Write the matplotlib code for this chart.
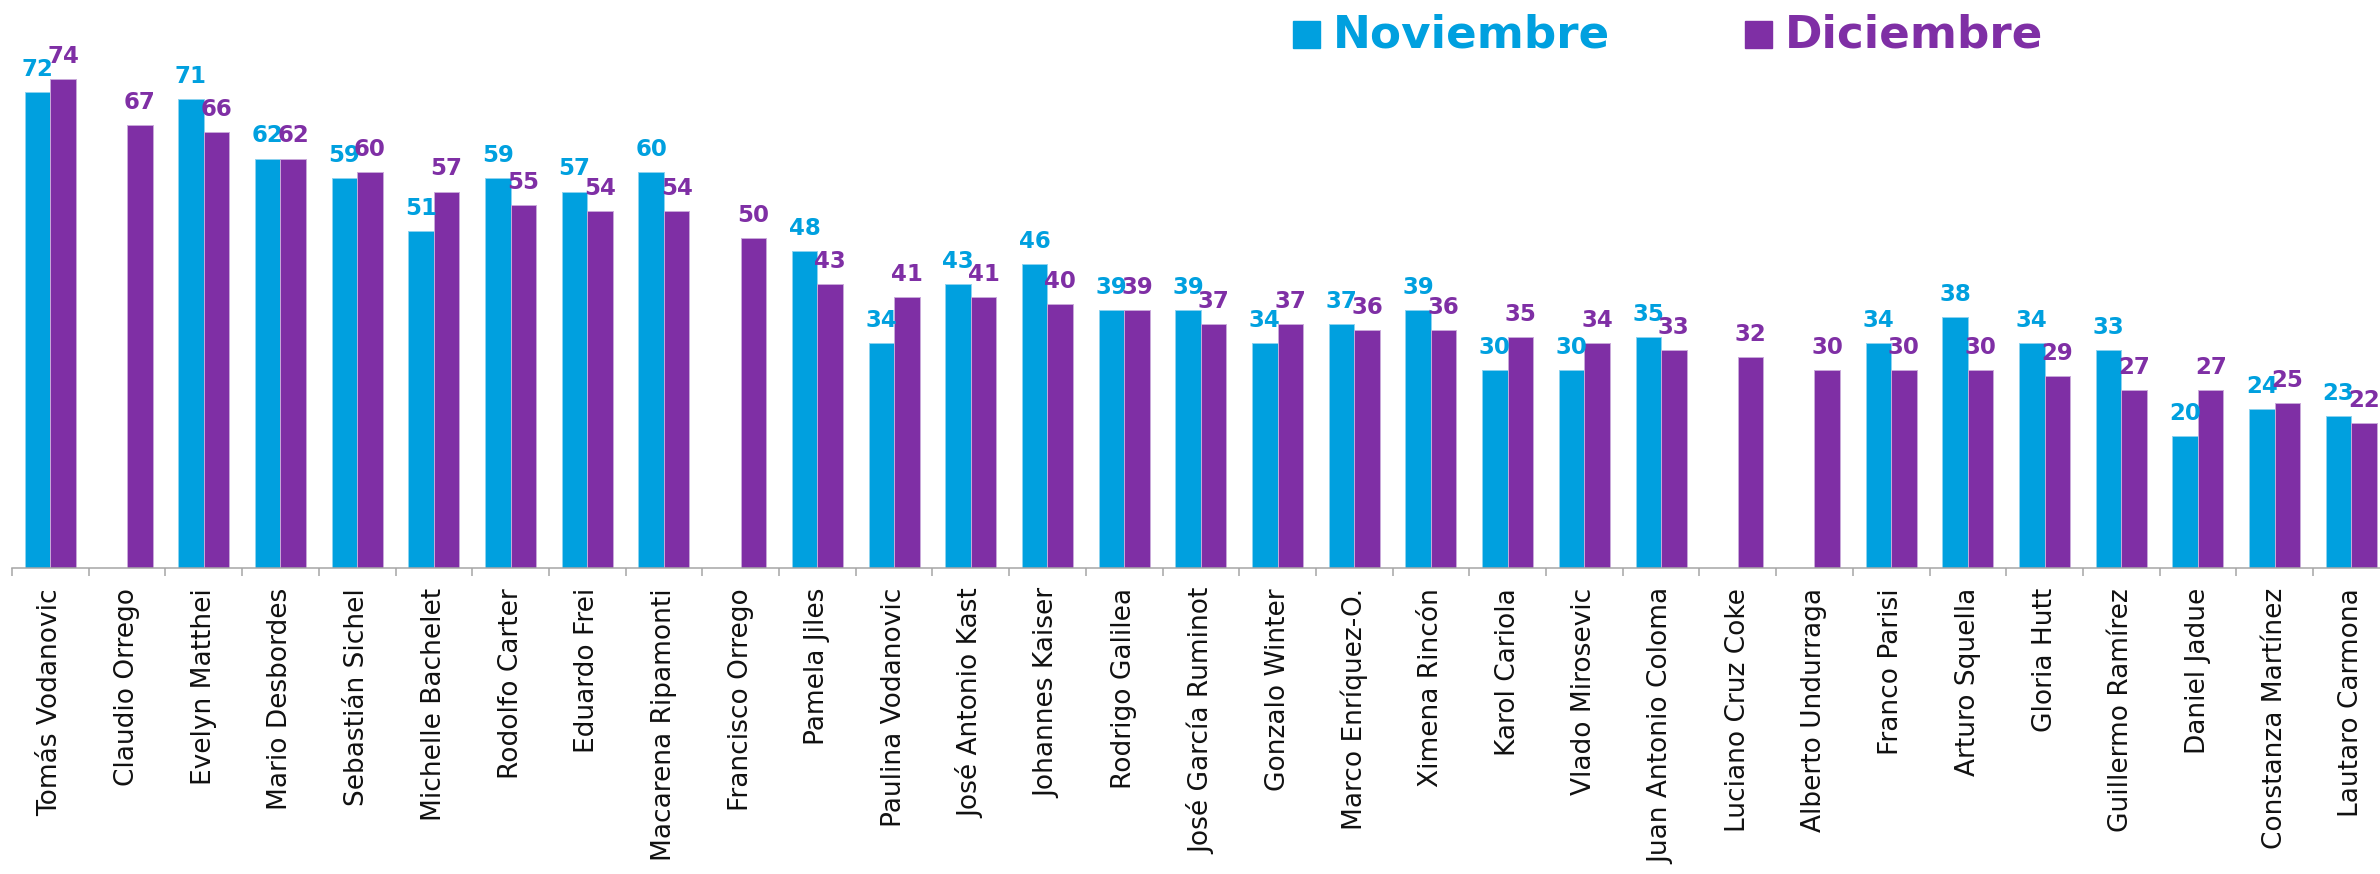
import matplotlib
matplotlib.use('Agg')
import matplotlib.pyplot as plt
import numpy as np
from matplotlib.patches import Rectangle

candidates = [
    "Tomás Vodanovic", "Claudio Orrego", "Evelyn Matthei", "Mario Desbordes",
    "Sebastián Sichel", "Michelle Bachelet", "Rodolfo Carter", "Eduardo Frei",
    "Macarena Ripamonti", "Francisco Orrego", "Pamela Jiles", "Paulina Vodanovic",
    "José Antonio Kast", "Johannes Kaiser", "Rodrigo Galilea", "José García Ruminot",
    "Gonzalo Winter", "Marco Enríquez-O.", "Ximena Rincón", "Karol Cariola",
    "Vlado Mirosevic", "Juan Antonio Coloma", "Luciano Cruz Coke", "Alberto Undurraga",
    "Franco Parisi", "Arturo Squella", "Gloria Hutt", "Guillermo Ramírez",
    "Daniel Jadue", "Constanza Martínez", "Lautaro Carmona",
]
noviembre = [72, None, 71, 62, 59, 51, 59, 57, 60, None, 48, 34, 43, 46, 39, 39,
             34, 37, 39, 30, 30, 35, None, None, 34, 38, 34, 33, 20, 24, 23]
diciembre = [74, 67, 66, 62, 60, 57, 55, 54, 54, 50, 43, 41, 41, 40, 39, 37,
             37, 36, 36, 35, 34, 33, 32, 30, 30, 30, 29, 27, 27, 25, 22]
series_names = ["Noviembre", "Diciembre"]

BLUE = '#00A0DF'
PURPLE = '#7F2FA5'
FIG_W, FIG_H = 2380, 874

fig = plt.figure(figsize=(FIG_W / 100, FIG_H / 100), dpi=100)
fig.patch.set_facecolor('white')
n = len(candidates)
ax = fig.add_axes([12 / FIG_W, (FIG_H - 568) / FIG_H, n * 76.7 / FIG_W, 568 / FIG_H])

x = np.arange(n)
w = 0.333
nov = np.array([np.nan if v is None else v for v in noviembre], dtype=float)
dic = np.array(diciembre, dtype=float)

ax.bar(x - w / 2, nov, w, color=BLUE, edgecolor='#8CD3F0', linewidth=0.7)
ax.bar(x + w / 2, dic, w, color=PURPLE, edgecolor='#C9A9DA', linewidth=0.7)

for xi, v in zip(x, noviembre):
    if v is None:
        continue
    ax.annotate(f"{v}", (xi - w / 2, v), xytext=(0, 8), textcoords='offset points',
                ha='center', va='bottom', color=BLUE, fontsize=16.5, fontweight='bold')
for xi, v in zip(x, diciembre):
    ax.annotate(f"{v}", (xi + w / 2, v), xytext=(0, 8), textcoords='offset points',
                ha='center', va='bottom', color=PURPLE, fontsize=16.5, fontweight='bold')

ax.set_xlim(-0.5, n - 0.5)
ax.set_ylim(0, 86)
ax.set_yticks([])
ax.set_xticks(x)
ax.set_xticklabels(candidates, rotation=90, fontsize=19, color='#111111')
ax.tick_params(axis='x', which='major', length=0, pad=14.4)
ax.set_xticks(np.arange(-0.5, n, 1), minor=True)
ax.tick_params(axis='x', which='minor', length=5.8, width=1.1, color='#A6A6A6')
for s in ['top', 'left', 'right']:
    ax.spines[s].set_visible(False)
ax.spines['bottom'].set_color('#A6A6A6')
ax.spines['bottom'].set_linewidth(1.1)
ax.set_facecolor('white')

# legend
legend_items = [(series_names[0], BLUE, 1293, 1333), (series_names[1], PURPLE, 1745, 1785)]
for name, col, sq_x, tx in legend_items:
    fig.patches.append(Rectangle((sq_x / FIG_W, 1 - 48 / FIG_H), 27 / FIG_W, 27 / FIG_H,
                                 transform=fig.transFigure, color=col))
    fig.text(tx / FIG_W, 1 - 48 / FIG_H, name, ha='left', va='baseline',
             fontsize=32.6, fontweight='bold', color=col)

fig.savefig('out.png', dpi=100, facecolor='white')
